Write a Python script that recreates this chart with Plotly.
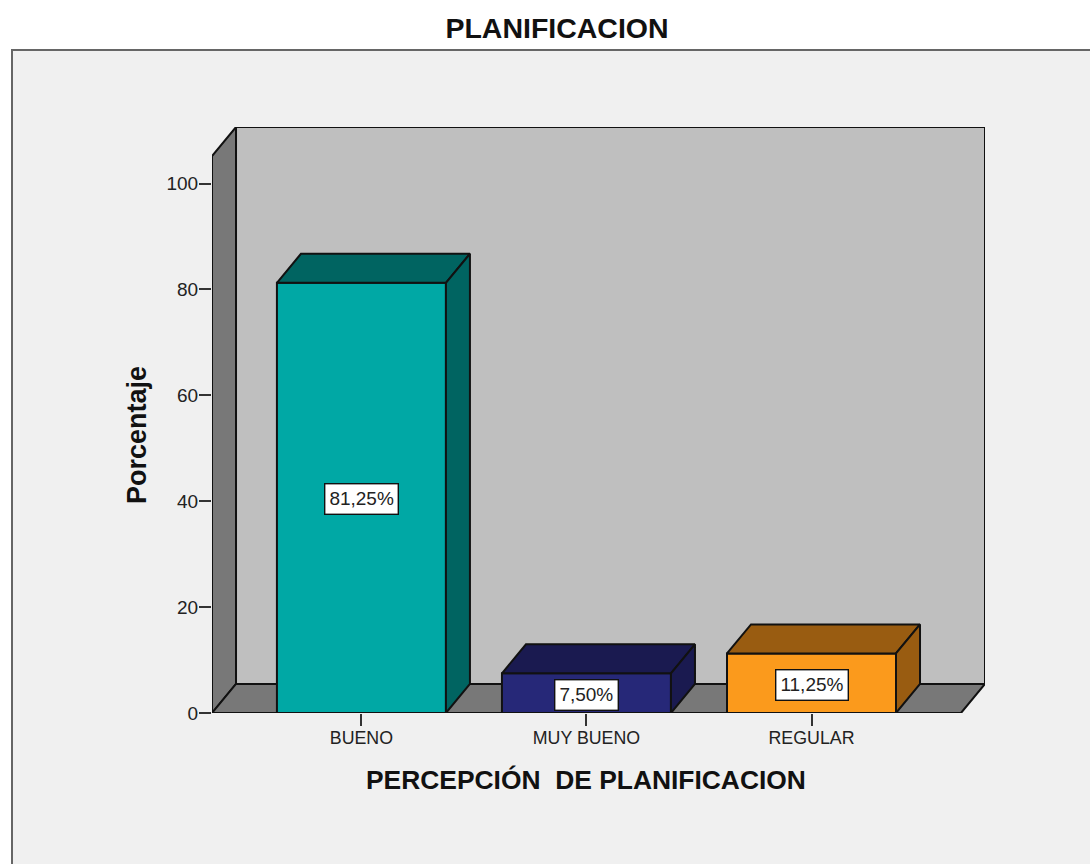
import plotly.graph_objects as go

categories = ["BUENO", "MUY BUENO", "REGULAR"]
percentages = [81.25, 7.50, 11.25]
value_labels = ["81,25%", "7,50%", "11,25%"]
y_ticks = [0, 20, 40, 60, 80, 100]
front_colors = ["#00a8a5", "#262878", "#fb9a1c"]
shade_colors = ["#006461", "#1a1a50", "#995c11"]

W, H = 1090, 864
L, R, T, B = 212, 105, 127, 151
PW, PH = W - L - R, H - T - B
X_RANGE = [-0.664, 2.771]
Y_RANGE = [0, 110.67]
BAR_W = 0.751
DX = 0.1067   # depth of the 3D box in x-axis units
DY = 5.48     # depth of the 3D box in y-axis units
FRONT_TOP = Y_RANGE[1] - DY
FRONT_RIGHT = X_RANGE[1] - DX
FONT = "Liberation Sans, Arial, sans-serif"
LINE = "#111111"
LW = 2
xpos = list(range(len(categories)))

def px_x(p):
    return (p - L) / PW

def px_y(p):
    return (H - B - p) / PH

def poly(xs, ys, fill, width=LW):
    path = "M " + " L ".join(f"{a},{b}" for a, b in zip(xs, ys)) + " Z"
    return dict(type="path", path=path, xref="x", yref="y", layer="below",
                fillcolor=fill, line=dict(color=LINE, width=width))

x0, x1, y1 = X_RANGE[0], FRONT_RIGHT, FRONT_TOP
shapes = [
    # chart panel
    dict(type="rect", xref="paper", yref="paper", layer="below",
         x0=px_x(12), x1=px_x(1095), y0=px_y(50), y1=px_y(870),
         fillcolor="#f0f0f0", line=dict(color="#666666", width=2)),
    # back wall, side wall, floor
    poly([x0 + DX, x1 + DX, x1 + DX, x0 + DX], [DY, DY, y1 + DY, y1 + DY], "#bfbfbf"),
    poly([x0, x0 + DX, x0 + DX, x0], [0, DY, y1 + DY, y1], "#787878"),
    poly([x0, x1, x1 + DX, x0 + DX], [0, 0, DY, DY], "#787878"),
]

fig = go.Figure()

fig.add_trace(go.Bar(
    x=xpos, y=percentages, width=BAR_W,
    marker=dict(color=front_colors, line=dict(color=LINE, width=LW)),
    showlegend=False, hoverinfo="skip",
))

for xc, v, shade in zip(xpos, percentages, shade_colors):
    a, b = xc - BAR_W / 2, xc + BAR_W / 2
    # top face
    fig.add_trace(go.Scatter(
        x=[a, b, b + DX, a + DX, a], y=[v, v, v + DY, v + DY, v],
        mode="lines", fill="toself", fillcolor=shade,
        line=dict(color=LINE, width=LW), showlegend=False, hoverinfo="skip"))
    # side face
    fig.add_trace(go.Scatter(
        x=[b, b + DX, b + DX, b, b], y=[0, DY, v + DY, v, 0],
        mode="lines", fill="toself", fillcolor=shade,
        line=dict(color=LINE, width=LW), showlegend=False, hoverinfo="skip"))

annotations = [
    dict(x=xc, y=v / 2, xref="x", yref="y", yshift=-1.5, text=lab, showarrow=False,
         font=dict(family=FONT, size=19, color="#222222"),
         bgcolor="#ffffff", bordercolor=LINE, borderwidth=1.4, borderpad=4)
    for xc, v, lab in zip(xpos, percentages, value_labels)
]
annotations.append(dict(
    xref="paper", yref="paper", x=px_x(137), y=px_y(435), xanchor="center", yanchor="middle",
    text="<b>Porcentaje</b>", textangle=-90, showarrow=False,
    font=dict(family=FONT, size=27, color="#111111")))
annotations.append(dict(
    xref="paper", yref="paper", x=px_x(585.5), y=px_y(780), xanchor="center", yanchor="middle",
    text="<b>PERCEPCIÓN  DE PLANIFICACION</b>", showarrow=False,
    font=dict(family=FONT, size=26.4, color="#111111")))

fig.update_layout(
    width=W, height=H,
    margin=dict(l=L, r=R, t=T, b=B, pad=0),
    paper_bgcolor="#ffffff", plot_bgcolor="rgba(0,0,0,0)",
    title=dict(text="<b>PLANIFICACION</b>", x=557 / W, xanchor="center",
               y=1 - 28 / H, yanchor="middle",
               font=dict(family=FONT, size=28.5, color="#111111")),
    shapes=shapes, annotations=annotations, showlegend=False,
    hovermode=False,
    xaxis=dict(range=X_RANGE, tickmode="array", tickvals=xpos, ticktext=categories,
               ticks="outside", ticklen=12, tickwidth=LW, tickcolor="#333333",
               tickfont=dict(family=FONT, size=17.8, color="#222222"),
               ticklabelstandoff=-3,
               showgrid=False, zeroline=False, showline=False),
    yaxis=dict(range=Y_RANGE, tickmode="array", tickvals=y_ticks,
               ticks="outside", ticklen=12, tickwidth=LW, tickcolor="#333333",
               tickfont=dict(family=FONT, size=19, color="#222222"),
               ticklabelstandoff=-3,
               showgrid=False, zeroline=False, showline=False),
)

fig.write_html("out.html", config={"displayModeBar": False},
               post_script="document.body.style.margin='0';document.documentElement.style.overflow='hidden';")
